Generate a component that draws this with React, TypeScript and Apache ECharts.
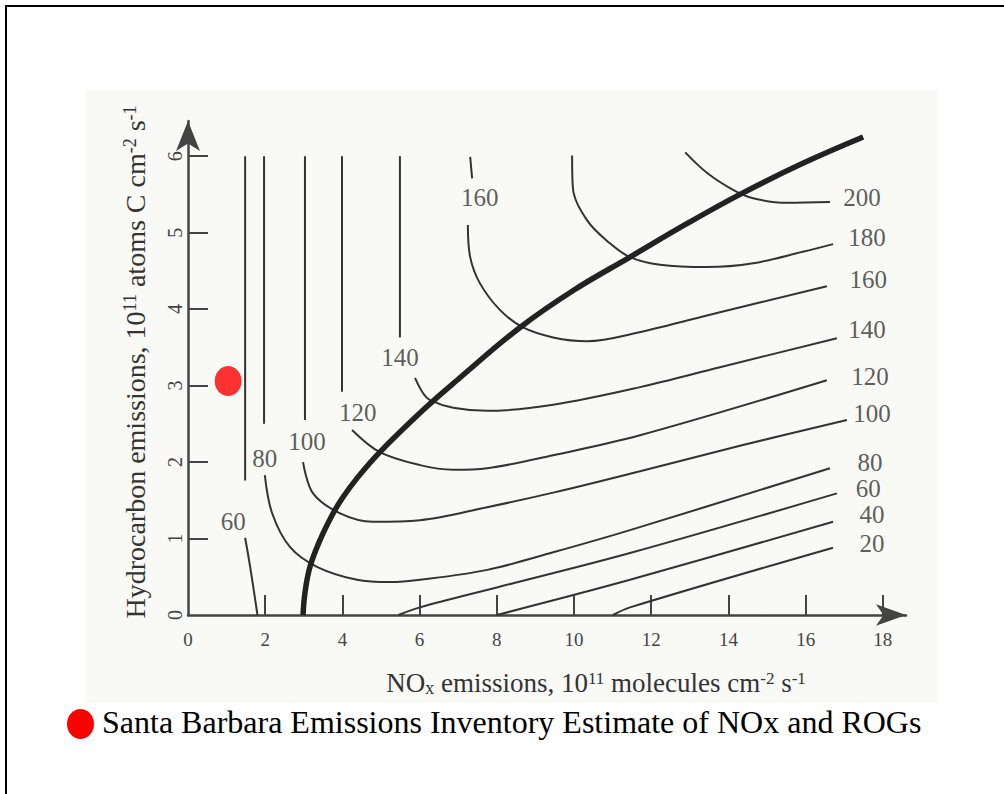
import React, { useEffect, useRef } from "react";
import * as echarts from "echarts";

// Axis ticks and labels
const xTickValues = [2, 4, 6, 8, 10, 12, 14, 16, 18];
const xLabelValues = [0, 2, 4, 6, 8, 10, 12, 14, 16, 18];
const yTickValues = [1, 2, 3, 4, 5, 6];
const yLabelValues = [0, 1, 2, 3, 4, 5, 6];

// Ridge line (thick)
const ridgeLine = [
  [2.98, 0], [3.03, 0.29], [3.16, 0.63], [3.42, 0.98], [3.76, 1.33], [4.0, 1.53], [4.38, 1.79],
  [4.97, 2.13], [6.09, 2.68], [6.97, 3.07], [8.6, 3.76], [10.0, 4.25], [11.45, 4.68],
  [12.9, 5.11], [14.3, 5.5], [15.9, 5.9], [17.49, 6.25],
];

// Ozone isopleths (ppb)
const c200 = [[12.88, 6.05], [13.45, 5.78], [14.12, 5.56], [14.64, 5.45], [15.52, 5.39], [16.63, 5.4]];
const c180 = [[9.95, 6.01], [9.97, 5.59], [10.34, 5.16], [10.93, 4.86], [11.45, 4.68], [12.23, 4.58], [13.45, 4.55], [14.64, 4.6], [15.93, 4.75], [16.71, 4.85]];
const c160Top = [[7.31, 5.99], [7.36, 5.71]];
const c160 = [[7.25, 5.1], [7.31, 4.68], [7.56, 4.34], [8.08, 3.99], [8.68, 3.76], [9.46, 3.63], [10.34, 3.58], [11.63, 3.69], [13.78, 3.96], [16.55, 4.3]];
const c140Top = [[5.49, 6.0], [5.49, 3.63]];
const c140 = [[5.88, 3.1], [6.09, 2.9], [6.27, 2.81], [6.87, 2.71], [7.75, 2.67], [9.46, 2.75], [11.71, 2.98], [13.78, 3.24], [16.81, 3.62]];
const c120Top = [[3.99, 6.0], [3.99, 2.92]];
const c120 = [[4.25, 2.42], [4.97, 2.13], [6.01, 1.96], [6.87, 1.9], [7.75, 1.92], [9.46, 2.09], [11.71, 2.35], [16.55, 3.07]];
const c100Top = [[3.03, 6.0], [3.03, 2.55]];
const c100 = [[2.98, 2.0], [3.24, 1.59], [3.94, 1.33], [4.79, 1.22], [6.01, 1.24], [7.75, 1.41], [9.46, 1.6], [11.71, 1.88], [14.35, 2.22], [17.07, 2.55]];
const c80Top = [[1.97, 6.0], [1.97, 2.5]];
const c80 = [[1.99, 1.83], [2.18, 1.33], [2.64, 0.89], [3.34, 0.63], [4.38, 0.46], [5.23, 0.43], [6.01, 0.46], [7.75, 0.59], [9.46, 0.82], [11.45, 1.11], [16.63, 1.92]];
const c60Top = [[1.48, 6.0], [1.48, 1.76]];
const c60Low = [[1.48, 1.01], [1.61, 0.63], [1.8, 0]];
const c60Right = [[5.45, 0], [6.01, 0.1], [8.0, 0.36], [11.45, 0.81], [16.81, 1.59]];
const c40 = [[8.0, 0], [11.45, 0.46], [16.71, 1.22]];
const c20 = [[11.01, 0], [11.45, 0.1], [16.71, 0.88]];

const curveSegments = [c200, c180, c160, c140, c120, c100, c80, c60Low, c60Right, c40, c20];
const straightSegments = [c160Top, c140Top, c120Top, c100Top, c80Top, c60Top];

// Contour labels: [text, x, y]
const contourLabels: [string, number, number][] = [
  ["200", 17.46, 5.46], ["180", 17.59, 4.94], ["160", 17.62, 4.39], ["140", 17.59, 3.73],
  ["120", 17.67, 3.12], ["100", 17.72, 2.63], ["80", 17.67, 2.0], ["60", 17.62, 1.65],
  ["40", 17.72, 1.31], ["20", 17.72, 0.94],
  ["60", 1.17, 1.22], ["80", 1.99, 2.05], ["100", 3.08, 2.27], ["120", 4.4, 2.65],
  ["140", 5.49, 3.37], ["160", 7.56, 5.46],
];

// Santa Barbara estimate point
const santaBarbara = [[1.04, 3.06]];

const SERIF = "Liberation Serif";

export default function App() {
  const ref = useRef<HTMLDivElement>(null);
  useEffect(() => {
    if (!ref.current) return;
    const chart = echarts.init(ref.current, undefined, { renderer: "svg" });
    const lineColor = "#333";
    const series: any[] = [];
    curveSegments.forEach((seg) => {
      series.push({
        type: "line", data: seg, smooth: 0.35, showSymbol: false, silent: true, z: 3,
        lineStyle: { color: lineColor, width: 2 },
      });
    });
    straightSegments.forEach((seg) => {
      series.push({
        type: "line", data: seg, smooth: false, showSymbol: false, silent: true, z: 3,
        lineStyle: { color: lineColor, width: 2 },
      });
    });
    series.push({
      type: "line", data: ridgeLine, smooth: 0.4, showSymbol: false, silent: true, z: 4,
      lineStyle: { color: "#222", width: 5.5 },
    });
    series.push({
      type: "scatter", symbolSize: 1, silent: true, z: 5,
      itemStyle: { color: "rgba(0,0,0,0)" },
      data: contourLabels.map(([t, x, y]) => ({ name: t, value: [x, y] })),
      label: {
        show: true, position: "inside", formatter: "{b}",
        fontFamily: SERIF, fontSize: 25, color: "#333",
      },
    });
    series.push({
      type: "scatter", data: santaBarbara, symbol: "circle", symbolSize: [27, 30], z: 6,
      itemStyle: { color: "#ff0000" },
    });

    const axisLineStyle = { color: "#444", width: 2.5 };
    const option: any = {
      animation: false,
      backgroundColor: "#ffffff",
      textStyle: { fontFamily: SERIF },
      grid: { left: 188, right: 98, top: 121, bottom: 179, containLabel: false },
      xAxis: {
        type: "value", min: 0, max: 18.6, interval: 2,
        splitLine: { show: false },
        axisLine: { show: true, onZero: false, symbol: ["none", "arrow"], symbolSize: [16, 30], lineStyle: axisLineStyle },
        axisTick: { show: true, inside: true, length: 20, customValues: xTickValues, lineStyle: { color: "#444", width: 2 } },
        axisLabel: { customValues: xLabelValues, margin: 15, color: "#444", fontFamily: SERIF, fontSize: 19 },
      },
      yAxis: {
        type: "value", min: 0, max: 6.46, interval: 1,
        splitLine: { show: false },
        axisLine: { show: true, onZero: false, symbol: ["none", "arrow"], symbolSize: [18, 30], lineStyle: axisLineStyle },
        axisTick: { show: true, inside: true, length: 20, customValues: yTickValues, lineStyle: { color: "#444", width: 2 } },
        axisLabel: { customValues: yLabelValues, rotate: 90, margin: 3, color: "#444", fontFamily: SERIF, fontSize: 20 },
      },
      series,
      graphic: [
        { type: "rect", z: -10, shape: { x: 85, y: 90, width: 852, height: 613 }, style: { fill: "#f9f9f5" } },
        { type: "line", z: 10, shape: { x1: 5, y1: 6, x2: 1004, y2: 6 }, style: { stroke: "#000", lineWidth: 2 } },
        { type: "line", z: 10, shape: { x1: 6, y1: 5, x2: 6, y2: 794 }, style: { stroke: "#000", lineWidth: 2 } },
        {
          type: "text", x: 596, y: 683, z: 10,
          style: {
            text: "{n|NO}{sub|x}{n| emissions, 10}{sup|11}{n| molecules cm}{sup|-2}{n| s}{sup|-1}",
            align: "center", verticalAlign: "middle", fill: "#333", fontFamily: SERIF, fontSize: 27,
            rich: {
              n: { fontFamily: SERIF, fontSize: 27, fill: "#333", verticalAlign: "middle" },
              sup: { fontFamily: SERIF, fontSize: 17, fill: "#333", verticalAlign: "top" },
              sub: { fontFamily: SERIF, fontSize: 18, fill: "#333", verticalAlign: "bottom" },
            },
          },
        },
        {
          type: "text", x: 135, y: 362, z: 10, rotation: Math.PI / 2,
          style: {
            text: "{n|Hydrocarbon emissions, 10}{sup|11}{n| atoms C cm}{sup|-2}{n| s}{sup|-1}",
            align: "center", verticalAlign: "middle", fill: "#333", fontFamily: SERIF, fontSize: 28,
            rich: {
              n: { fontFamily: SERIF, fontSize: 28, fill: "#333", verticalAlign: "middle" },
              sup: { fontFamily: SERIF, fontSize: 18, fill: "#333", verticalAlign: "top" },
            },
          },
        },
        { type: "ellipse", z: 10, shape: { cx: 80.5, cy: 724, rx: 13.5, ry: 15 }, style: { fill: "#ff0000" } },
        {
          type: "text", x: 102, y: 722, z: 10,
          style: {
            text: "Santa Barbara Emissions Inventory Estimate of NOx and ROGs",
            align: "left", verticalAlign: "middle", fill: "#000", fontFamily: SERIF, fontSize: 32,
          },
        },
      ],
    };
    chart.setOption(option);
    return () => chart.dispose();
  }, []);
  return (
    <div
      ref={ref}
      style={{ position: "fixed", left: 0, top: 0, width: 1004, height: 794, background: "#fff" }}
    />
  );
}
